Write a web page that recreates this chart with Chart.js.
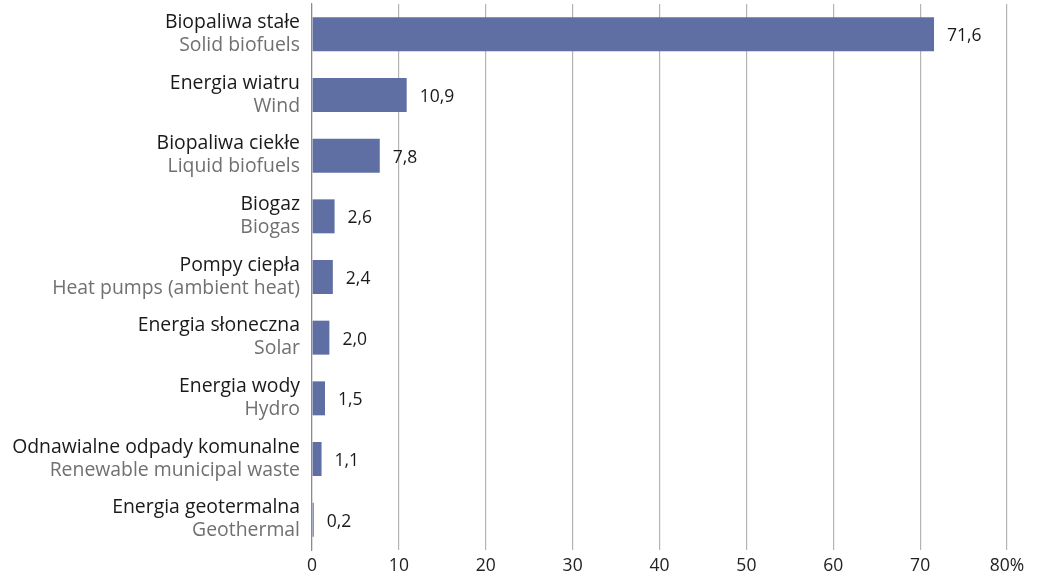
<!DOCTYPE html>
<html lang="pl">
<head>
<meta charset="utf-8">
<title>Odnawialne źródła energii</title>
<script src="https://cdn.jsdelivr.net/npm/chart.js@4/dist/chart.umd.min.js"></script>
<style>
    html, body { margin: 0; padding: 0; background: #ffffff; }
    #wrap { width: 1039px; height: 583px; position: relative; }
</style>
</head>
<body>
<div id="wrap"><canvas id="barChart"></canvas></div>
<script>
// Categories: Polish name with English name underneath
const labelsPl = ['Biopaliwa stałe', 'Energia wiatru', 'Biopaliwa ciekłe', 'Biogaz', 'Pompy ciepła',
    'Energia słoneczna', 'Energia wody', 'Odnawialne odpady komunalne', 'Energia geotermalna'];
const labelsEn = ['Solid biofuels', 'Wind', 'Liquid biofuels', 'Biogas', 'Heat pumps (ambient heat)',
    'Solar', 'Hydro', 'Renewable municipal waste', 'Geothermal'];
const shares = [71.6, 10.9, 7.8, 2.6, 2.4, 2.0, 1.5, 1.1, 0.2];
const xTicks = [0, 10, 20, 30, 40, 50, 60, 70, 80];

const FONT = '"Open Sans", "Noto Sans", sans-serif';

function formatValue(v) {
    return v.toFixed(1).replace('.', ',');
}

// Two-line category labels (dark Polish line, grey English line)
const categoryLabels = {
    id: 'categoryLabels',
    afterDraw(chart) {
        const ctx = chart.ctx;
        const yScale = chart.scales.y;
        const right = chart.chartArea.left - 12;
        ctx.save();
        ctx.font = '19.4px ' + FONT;
        ctx.textAlign = 'right';
        ctx.textBaseline = 'middle';
        labelsPl.forEach(function(pl, i) {
            const y = yScale.getPixelForTick(i);
            ctx.fillStyle = '#1a1a1a';
            ctx.fillText(pl, right, y - 12);
            ctx.fillStyle = '#707070';
            ctx.fillText(labelsEn[i], right, y + 11);
        });
        ctx.restore();
    }
};

// Value printed to the right of each bar
const valueLabels = {
    id: 'valueLabels',
    afterDatasetsDraw(chart) {
        const ctx = chart.ctx;
        const meta = chart.getDatasetMeta(0);
        ctx.save();
        ctx.font = '17.5px ' + FONT;
        ctx.fillStyle = '#1a1a1a';
        ctx.textAlign = 'left';
        ctx.textBaseline = 'middle';
        meta.data.forEach(function(bar, i) {
            ctx.fillText(formatValue(shares[i]), bar.x + 13, bar.y + 2);
        });
        ctx.restore();
    }
};

document.addEventListener('DOMContentLoaded', function() {
    const ctx = document.getElementById('barChart').getContext('2d');
    new Chart(ctx, {
        type: 'bar',
        data: {
            labels: labelsPl,
            datasets: [{
                data: shares,
                backgroundColor: '#5f6fa3',
                borderWidth: 0,
                barPercentage: 0.56,
                categoryPercentage: 1
            }]
        },
        options: {
            indexAxis: 'y',
            responsive: true,
            maintainAspectRatio: false,
            animation: false,
            layout: {
                padding: { top: 4, right: 32, bottom: 0, left: 0 }
            },
            plugins: {
                legend: { display: false },
                tooltip: { enabled: false }
            },
            scales: {
                x: {
                    min: 0,
                    max: 80,
                    afterBuildTicks: function(scale) {
                        scale.ticks = xTicks.map(function(v) { return { value: v }; });
                    },
                    ticks: {
                        color: '#222222',
                        padding: 6,
                        font: { family: FONT, size: 17.5 },
                        maxRotation: 0,
                        callback: function(value) {
                            return value === 80 ? '80%' : String(value);
                        }
                    },
                    grid: {
                        color: '#b4b4b4',
                        lineWidth: 1.2,
                        drawTicks: false
                    },
                    border: { display: false }
                },
                y: {
                    ticks: { display: false },
                    grid: { display: false },
                    border: { display: true, color: '#8c8c8c', width: 1.2 },
                    afterFit: function(scale) {
                        scale.width = 312;
                    }
                }
            }
        },
        plugins: [categoryLabels, valueLabels]
    });
});
</script>
</body>
</html>
